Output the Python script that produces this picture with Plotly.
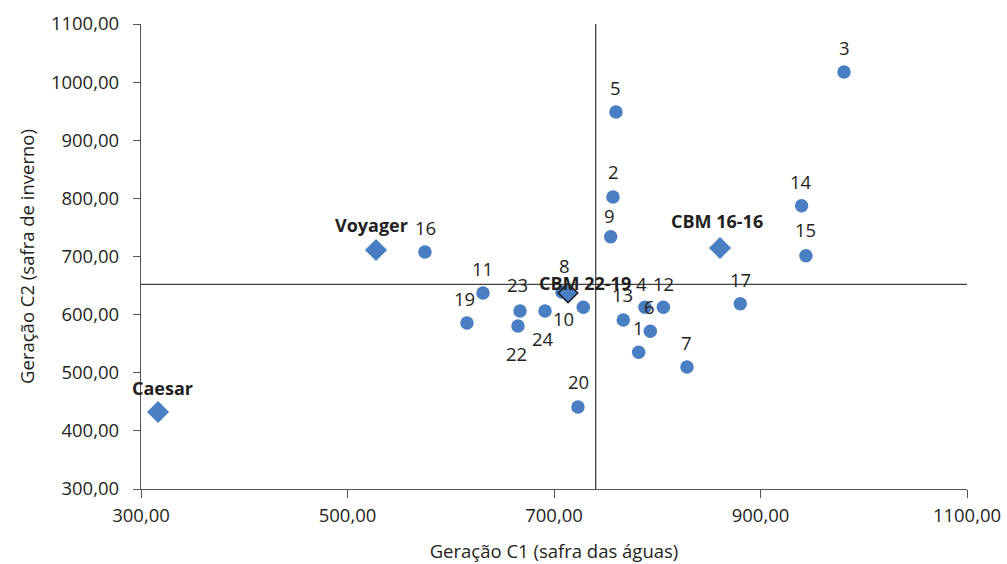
import plotly.graph_objects as go

# ---- data ----
genotype_labels = ["1", "2", "3", "4", "5", "6", "7", "8", "9", "10", "11", "12",
                   "13", "14", "15", "16", "17", "19", "20", "22", "23", "24"]
genotype_c1 = [782.0, 757.1, 980.9, 788.1, 760.0, 793.3, 828.8, 707.7, 754.9, 728.4, 631.2, 805.9,
               767.1, 939.8, 944.0, 575.0, 880.4, 615.7, 723.2, 665.1, 667.1, 691.3]
genotype_c2 = [535.2, 802.4, 1017.4, 612.6, 948.6, 571.3, 509.9, 638.9, 734.1, 612.6, 637.2, 612.6,
               590.8, 787.4, 701.4, 707.7, 618.8, 585.6, 441.1, 580.4, 606.2, 606.2]

cultivar_labels = ["Voyager", "Caesar", "CBM 16-16"]
cultivar_c1 = [527.6, 316.5, 860.8]
cultivar_c2 = [711.2, 432.5, 714.6]

highlight_label = ["CBM 22-19"]
highlight_c1 = [713.6]
highlight_c2 = [637.2]

mean_c1 = 740.4
mean_c2 = 652.2

x_title = "Geração C1 (safra das águas)"
y_title = "Geração C2 (safra de inverno)"

# ---- label placement (pixel offsets, style only) ----
genotype_label_offsets = {
    "1": (0, 25), "2": (1, 25), "3": (0, 25), "4": (-3, 24), "5": (0, 25), "6": (-1, 25),
    "7": (0, 25), "8": (3, 27), "9": (-1, 21), "10": (-20, -11), "11": (0, 25), "12": (0, 24),
    "13": (-1, 25), "14": (-1, 24), "15": (0, 26), "16": (1, 25), "17": (0, 24), "19": (-2, 24),
    "20": (1, 25), "22": (-1, -27), "23": (-3, 27), "24": (-2, -27),
}
cultivar_label_offsets = {"Voyager": (-5, 25), "Caesar": (4, 24), "CBM 16-16": (-3, 27)}
highlight_label_offsets = {"CBM 22-19": (17, 10)}

BLUE = "#4a7ec2"
TEXT = "#231f20"
AXIS = "#555555"
FONT = "Open Sans"

fig = go.Figure()

fig.add_trace(go.Scatter(
    x=genotype_c1, y=genotype_c2, mode="markers",
    marker=dict(symbol="circle", size=13.5, color=BLUE),
    hovertext=genotype_labels, showlegend=False))

fig.add_trace(go.Scatter(
    x=cultivar_c1, y=cultivar_c2, mode="markers",
    marker=dict(symbol="diamond", size=17, color=BLUE),
    hovertext=cultivar_labels, showlegend=False))

fig.add_trace(go.Scatter(
    x=highlight_c1, y=highlight_c2, mode="markers",
    marker=dict(symbol="diamond", size=15, color=BLUE, line=dict(color="#1a1a1a", width=1.5)),
    hovertext=highlight_label, showlegend=False))

annotations = []
for lab, xv, yv in zip(genotype_labels, genotype_c1, genotype_c2):
    dx, dy = genotype_label_offsets[lab]
    annotations.append(dict(x=xv, y=yv, text=lab, showarrow=False, xshift=dx, yshift=dy,
                            xanchor="center", yanchor="middle",
                            font=dict(family=FONT, size=18.5, color=TEXT)))
for lab, xv, yv in zip(cultivar_labels, cultivar_c1, cultivar_c2):
    dx, dy = cultivar_label_offsets[lab]
    annotations.append(dict(x=xv, y=yv, text="<b>" + lab + "</b>", showarrow=False, xshift=dx, yshift=dy,
                            xanchor="center", yanchor="middle",
                            font=dict(family=FONT, size=18, color=TEXT)))
for lab, xv, yv in zip(highlight_label, highlight_c1, highlight_c2):
    dx, dy = highlight_label_offsets[lab]
    annotations.append(dict(x=xv, y=yv, text="<b>" + lab + "</b>", showarrow=False, xshift=dx, yshift=dy,
                            xanchor="center", yanchor="middle",
                            font=dict(family=FONT, size=18, color=TEXT)))

shapes = [
    dict(type="line", xref="x", yref="paper", x0=mean_c1, x1=mean_c1, y0=0, y1=1,
         line=dict(color="#404040", width=1.3), layer="below"),
    dict(type="line", xref="paper", yref="y", x0=0, x1=1, y0=mean_c2, y1=mean_c2,
         line=dict(color="#404040", width=1.3), layer="below"),
]

fig.update_layout(
    width=1007, height=564,
    margin=dict(l=141, r=40, t=24, b=75, pad=0, autoexpand=False),
    paper_bgcolor="white", plot_bgcolor="white",
    separators=",.",
    font=dict(family=FONT, size=18, color=TEXT),
    annotations=annotations, shapes=shapes,
    showlegend=False,
)
fig.update_xaxes(
    range=[300, 1100], dtick=200, tick0=300, tickformat=".2f", automargin=False,
    showgrid=False, zeroline=False, showline=True, linecolor=AXIS, linewidth=1.3,
    ticks="outside", ticklen=8, tickcolor=AXIS, tickwidth=1.3, ticklabelstandoff=2,
    ticklabeloverflow="allow",
    tickfont=dict(family=FONT, size=18.5, color=TEXT),
    title=dict(text=x_title, font=dict(family=FONT, size=18.5, color=TEXT), standoff=18),
)
fig.update_yaxes(
    range=[300, 1100], dtick=100, tick0=300, tickformat=".2f", automargin=False,
    showgrid=False, zeroline=False, showline=True, linecolor=AXIS, linewidth=1.3,
    ticks="outside", ticklen=7, tickcolor=AXIS, tickwidth=1.3, ticklabelstandoff=10,
    tickfont=dict(family=FONT, size=18.5, color=TEXT),
    title=dict(text=y_title, font=dict(family=FONT, size=18.5, color=TEXT), standoff=11),
)

# remove the default page margin so the figure fills the window exactly
fig.write_html("out.html",
               config={"displayModeBar": False},
               post_script="document.body.style.margin='0';document.body.style.overflow='hidden';")
